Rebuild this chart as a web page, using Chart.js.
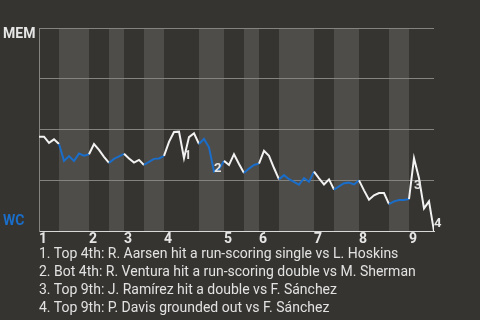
<!DOCTYPE html>
<html>
<head>
<meta charset="utf-8">
<script src="https://cdn.jsdelivr.net/npm/chart.js@4/dist/chart.umd.min.js"></script>
<style>
  body { margin: 0; background: #363430; }
  #wrap { position: relative; width: 480px; height: 320px; }
  #notes { position: absolute; left: 39px; top: 244px; font: 14px Roboto, sans-serif; line-height: 18px; color: #e2e2e2; white-space: nowrap; }
</style>
</head>
<body>
<div id="wrap">
  <canvas id="wpChart" width="480" height="320"></canvas>
  <div id="notes"></div>
</div>
<script>
// MEM win probability (%) after each play, play 0 = first pitch
var winProb = [46.5, 46.5, 43.5, 45.2, 42.9, 34.6, 36.9, 34.6, 38.2, 37.2,
               37.9, 42.9, 40.0, 36.6, 33.6, 35.6, 36.8, 38.1, 35.8, 33.8,
               35.1, 32.6, 34.1, 35.6, 35.8, 37.1, 44.0, 48.8, 49.0, 35.9,
               46.3, 48.2, 42.9, 45.4, 41.3, 29.4, 30.6, 34.6, 32.6, 37.9,
               33.1, 28.6, 30.8, 32.6, 33.3, 39.6, 37.1, 31.1, 25.5, 27.6,
               25.6, 24.3, 22.9, 26.1, 24.3, 29.3, 26.0, 23.0, 25.5, 20.5,
               22.1, 23.6, 23.9, 23.0, 25.0, 20.1, 15.5, 17.7, 18.8, 18.8,
               13.3, 14.7, 15.3, 15.4, 15.8, 35.9, 26.1, 11.2, 14.7, 0];

// play index where each half inning starts (top 1st ... top 9th), last = end of game
var halfStarts = [0, 4, 10, 14, 17, 21, 25, 32, 37, 41, 44, 48, 55, 59, 64, 70, 74, 79];
var innings = ["1", "2", "3", "4", "5", "6", "7", "8", "9"];

// numbered notes: play index, label value (%), text
var notePlays = [29, 35, 75, 79];
var noteValues = [35.7, 29.3, 21.0, 2.2];
var noteTexts = [
  "Top 4th: R. Aarsen hit a run-scoring single vs L. Hoskins",
  "Bot 4th: R. Ventura hit a run-scoring double vs M. Sherman",
  "Top 9th: J. Ramírez hit a double vs F. Sánchez",
  "Top 9th: P. Davis grounded out vs F. Sánchez"
];
var teams = ["MEM", "WC"];

var blue = "#1a6dc8";
var notes = document.getElementById("notes");
for (var n = 0; n < noteTexts.length; n++) {
  var d = document.createElement("div");
  d.textContent = (n + 1) + ". " + noteTexts[n];
  notes.appendChild(d);
}

function inBottomHalf(i) {
  for (var h = 1; h < halfStarts.length - 1; h += 2) {
    if (i >= halfStarts[h] && i < halfStarts[h + 1]) return true;
  }
  return false;
}

var inningTicks = [];
for (var h = 0; h < halfStarts.length - 1; h += 2) inningTicks.push(halfStarts[h]);

var extras = {
  id: "extras",
  beforeDraw: function(chart) {
    var c = chart.ctx, a = chart.chartArea, xs = chart.scales.x, ys = chart.scales.y;
    c.save();
    c.fillStyle = "#363430";
    c.fillRect(0, 0, chart.width, chart.height);
    c.fillStyle = "#4f4d4a";
    for (var h = 1; h < halfStarts.length - 1; h += 2) {
      var x0 = xs.getPixelForValue(halfStarts[h]);
      var x1 = xs.getPixelForValue(halfStarts[h + 1]);
      c.fillRect(x0, a.top, x1 - x0, a.bottom - a.top);
    }
    c.font = "bold 14px Roboto, sans-serif";
    c.textBaseline = "middle";
    c.textAlign = "left";
    c.fillStyle = "#e6e6e6";
    c.fillText(teams[0], 3, ys.getPixelForValue(100) + 6);
    c.fillStyle = blue;
    c.fillText(teams[1], 3, ys.getPixelForValue(0) - 10);
    c.restore();
  },
  afterDatasetsDraw: function(chart) {
    var c = chart.ctx, xs = chart.scales.x, ys = chart.scales.y;
    c.save();
    c.font = "bold 13px Roboto, sans-serif";
    c.fillStyle = "#e6e6e6";
    c.textAlign = "left";
    c.textBaseline = "alphabetic";
    for (var n = 0; n < notePlays.length; n++) {
      c.fillText(String(n + 1), xs.getPixelForValue(notePlays[n]), ys.getPixelForValue(noteValues[n]));
    }
    c.restore();
  }
};

new Chart(document.getElementById("wpChart"), {
  type: "line",
  data: {
    datasets: [{
      data: winProb.map(function(v, i) { return { x: i, y: v }; }),
      borderColor: "#f2f2f2",
      borderWidth: 2,
      pointRadius: 0,
      tension: 0,
      segment: {
        borderColor: function(ctx) { return inBottomHalf(ctx.p0DataIndex) ? blue : "#f2f2f2"; }
      }
    }]
  },
  options: {
    responsive: false,
    animation: false,
    devicePixelRatio: 1,
    layout: { padding: { left: 39, right: 46, top: 28, bottom: 72 } },
    plugins: { legend: { display: false }, tooltip: { enabled: false } },
    scales: {
      x: {
        type: "linear",
        min: 0,
        max: halfStarts[halfStarts.length - 1],
        afterBuildTicks: function(axis) {
          axis.ticks = inningTicks.map(function(v) { return { value: v }; });
        },
        ticks: {
          autoSkip: false,
          maxRotation: 0,
          padding: 0,
          labelOffset: 4,
          color: "#e6e6e6",
          font: { family: "Roboto", size: 14, weight: "bold" },
          callback: function(v) { return innings[inningTicks.indexOf(v)]; }
        },
        grid: { display: false, drawTicks: false },
        border: { display: true, color: "#d8d8d8", width: 1 }
      },
      y: {
        min: 0,
        max: 100,
        ticks: { display: false, stepSize: 25 },
        grid: { color: "#858380", lineWidth: 1, drawTicks: false },
        border: { display: true, color: "#858380", width: 1 }
      }
    }
  },
  plugins: [extras]
});
</script>
</body>
</html>
